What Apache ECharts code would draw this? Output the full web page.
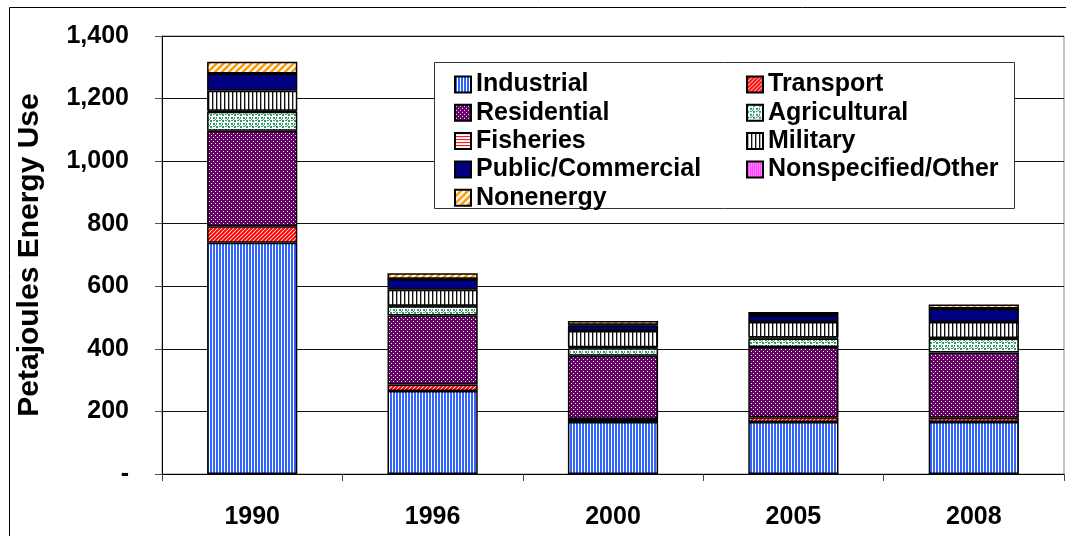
<!DOCTYPE html>
<html>
<head>
<meta charset="utf-8">
<script src="https://cdn.jsdelivr.net/npm/echarts@6/dist/echarts.min.js"></script>
<style>
  html, body { margin: 0; padding: 0; background: #fff; }
  #chart { width: 1066px; height: 536px; }
</style>
</head>
<body>
<div id="chart"></div>
<script>
const years = ['1990', '1996', '2000', '2005', '2008']
const yTicks = [0, 200, 400, 600, 800, 1000, 1200, 1400]

// petajoules (bottom to top of the stack)
const industrial   = [739, 265, 166, 166, 166]
const transport    = [53, 21, 10, 15, 14]
const residential  = [305, 221, 202, 225, 208]
const agricultural = [61, 29, 24, 27, 45]
const fisheries    = [3, 2, 3, 3, 2]
const military     = [64, 51, 52, 50, 51]
const publicComm   = [54, 34, 18, 20, 42]
const nonspecified = [1, 1, 2, 2, 1]
const nonenergy    = [38, 18, 12, 10, 13]

const FONT = '"Liberation Sans", Arial, sans-serif'

function pattern(w, h, draw) {
  const c = document.createElement('canvas')
  c.width = w; c.height = h
  const ctx = c.getContext('2d')
  ctx.fillStyle = '#fff'
  ctx.fillRect(0, 0, w, h)
  draw(ctx, w, h)
  return { image: c, repeat: 'repeat' }
}

function diag(color, size, lw) {
  return pattern(size, size, (ctx, w, h) => {
    ctx.strokeStyle = color
    ctx.lineWidth = lw
    ctx.beginPath()
    ctx.moveTo(-1, h + 1); ctx.lineTo(w + 1, -1)
    ctx.moveTo(-w - 1, h + 1); ctx.lineTo(1, -1)
    ctx.moveTo(w - 1, h + 1); ctx.lineTo(2 * w + 1, -1)
    ctx.stroke()
  })
}

const FILLS = {
  industrial: pattern(3, 1, (ctx) => { ctx.fillStyle = '#3366ff'; ctx.fillRect(0, 0, 2, 1) }),
  transport: diag('#ff0000', 4, 2),
  residential: pattern(4, 4, (ctx) => {
    ctx.fillStyle = '#660066'; ctx.fillRect(0, 0, 4, 4)
    ctx.fillStyle = '#fff'; ctx.fillRect(1, 1, 1, 1); ctx.fillRect(3, 3, 1, 1)
  }),
  agricultural: pattern(6, 6, (ctx) => {
    ctx.fillStyle = '#339966'
    ctx.fillRect(0, 0, 2, 2); ctx.fillRect(3, 3, 2, 2); ctx.fillRect(3, 0, 2, 1)
    ctx.fillRect(0, 3, 1, 2); ctx.fillRect(5, 5, 1, 1)
  }),
  fisheries: pattern(1, 3, (ctx) => { ctx.fillStyle = '#ff0000'; ctx.fillRect(0, 0, 1, 1) }),
  military: pattern(4, 1, (ctx) => { ctx.fillStyle = '#111'; ctx.fillRect(0, 0, 1, 1); ctx.fillStyle = '#aaa'; ctx.fillRect(1, 0, 1, 1) }),
  publicComm: '#000080',
  nonspecified: pattern(2, 2, (ctx) => {
    ctx.fillStyle = '#ff00ff'; ctx.fillRect(0, 0, 1, 1); ctx.fillRect(1, 1, 1, 1)
    ctx.fillStyle = '#ff88ff'; ctx.fillRect(1, 0, 1, 1)
  }),
  nonenergy: diag('#ff9900', 7, 2.5),
}

const seriesDefs = [
  ['Industrial', industrial, FILLS.industrial],
  ['Transport', transport, FILLS.transport],
  ['Residential', residential, FILLS.residential],
  ['Agricultural', agricultural, FILLS.agricultural],
  ['Fisheries', fisheries, FILLS.fisheries],
  ['Military', military, FILLS.military],
  ['Public/Commercial', publicComm, FILLS.publicComm],
  ['Nonspecified/Other', nonspecified, FILLS.nonspecified],
  ['Nonenergy', nonenergy, FILLS.nonenergy],
]

const legendText = { fontSize: 25, fontWeight: 'bold', color: '#000', fontFamily: FONT, lineHeight: 25 }
const legendBase = {
  orient: 'vertical', top: 67, itemWidth: 16, itemHeight: 16, itemGap: 3.3,
  icon: 'rect', selectedMode: false, textStyle: legendText, z: 5,
}

const chart = echarts.init(document.getElementById('chart'), null, { renderer: 'canvas' })
chart.setOption({
  animation: false,
  backgroundColor: '#fff',
  textStyle: { fontFamily: FONT },
  grid: { left: 162, right: 2, top: 36, bottom: 62, show: true, borderColor: '#888', borderWidth: 1 },
  legend: [
    { ...legendBase, left: 449, data: ['Industrial', 'Residential', 'Fisheries', 'Public/Commercial', 'Nonenergy'] },
    { ...legendBase, left: 741, data: ['Transport', 'Agricultural', 'Military', 'Nonspecified/Other'] },
  ],
  graphic: [
    { type: 'rect', z: 3, silent: true, shape: { x: 434.5, y: 62.5, width: 580, height: 146 },
      style: { fill: '#fff', stroke: '#333', lineWidth: 1 } },
    { type: 'rect', z: 10, silent: true, shape: { x: 9.5, y: 7.5, width: 1200, height: 700 },
      style: { fill: null, stroke: '#000', lineWidth: 1 } },
  ],
  xAxis: {
    type: 'category', data: years,
    axisLine: { lineStyle: { color: '#000', width: 1 } },
    axisTick: { show: true, alignWithLabel: false, length: 7, lineStyle: { color: '#444' } },
    axisLabel: { fontSize: 25, fontWeight: 'bold', color: '#000', fontFamily: FONT, margin: 31 },
  },
  yAxis: {
    type: 'value', min: yTicks[0], max: yTicks[yTicks.length - 1], interval: 200,
    name: 'Petajoules Energy Use', nameLocation: 'middle', nameGap: 117,
    nameTextStyle: { fontSize: 30, fontWeight: 'bold', color: '#000', fontFamily: FONT },
    axisLine: { show: true, lineStyle: { color: '#000', width: 1 } },
    axisTick: { show: true, length: 7, lineStyle: { color: '#555' } },
    axisLabel: {
      fontSize: 25, fontWeight: 'bold', color: '#000', fontFamily: FONT, margin: 33,
      formatter: v => v === 0 ? '-' : v.toLocaleString('en-US'),
    },
    splitLine: { lineStyle: { color: '#111', width: 1 } },
  },
  series: seriesDefs.map(([name, data, fill]) => ({
    name, type: 'bar', stack: 'total', data, barWidth: '50%',
    itemStyle: { color: fill, borderColor: '#000', borderWidth: 1.5 },
    emphasis: { disabled: true },
  })),
})
</script>
</body>
</html>
